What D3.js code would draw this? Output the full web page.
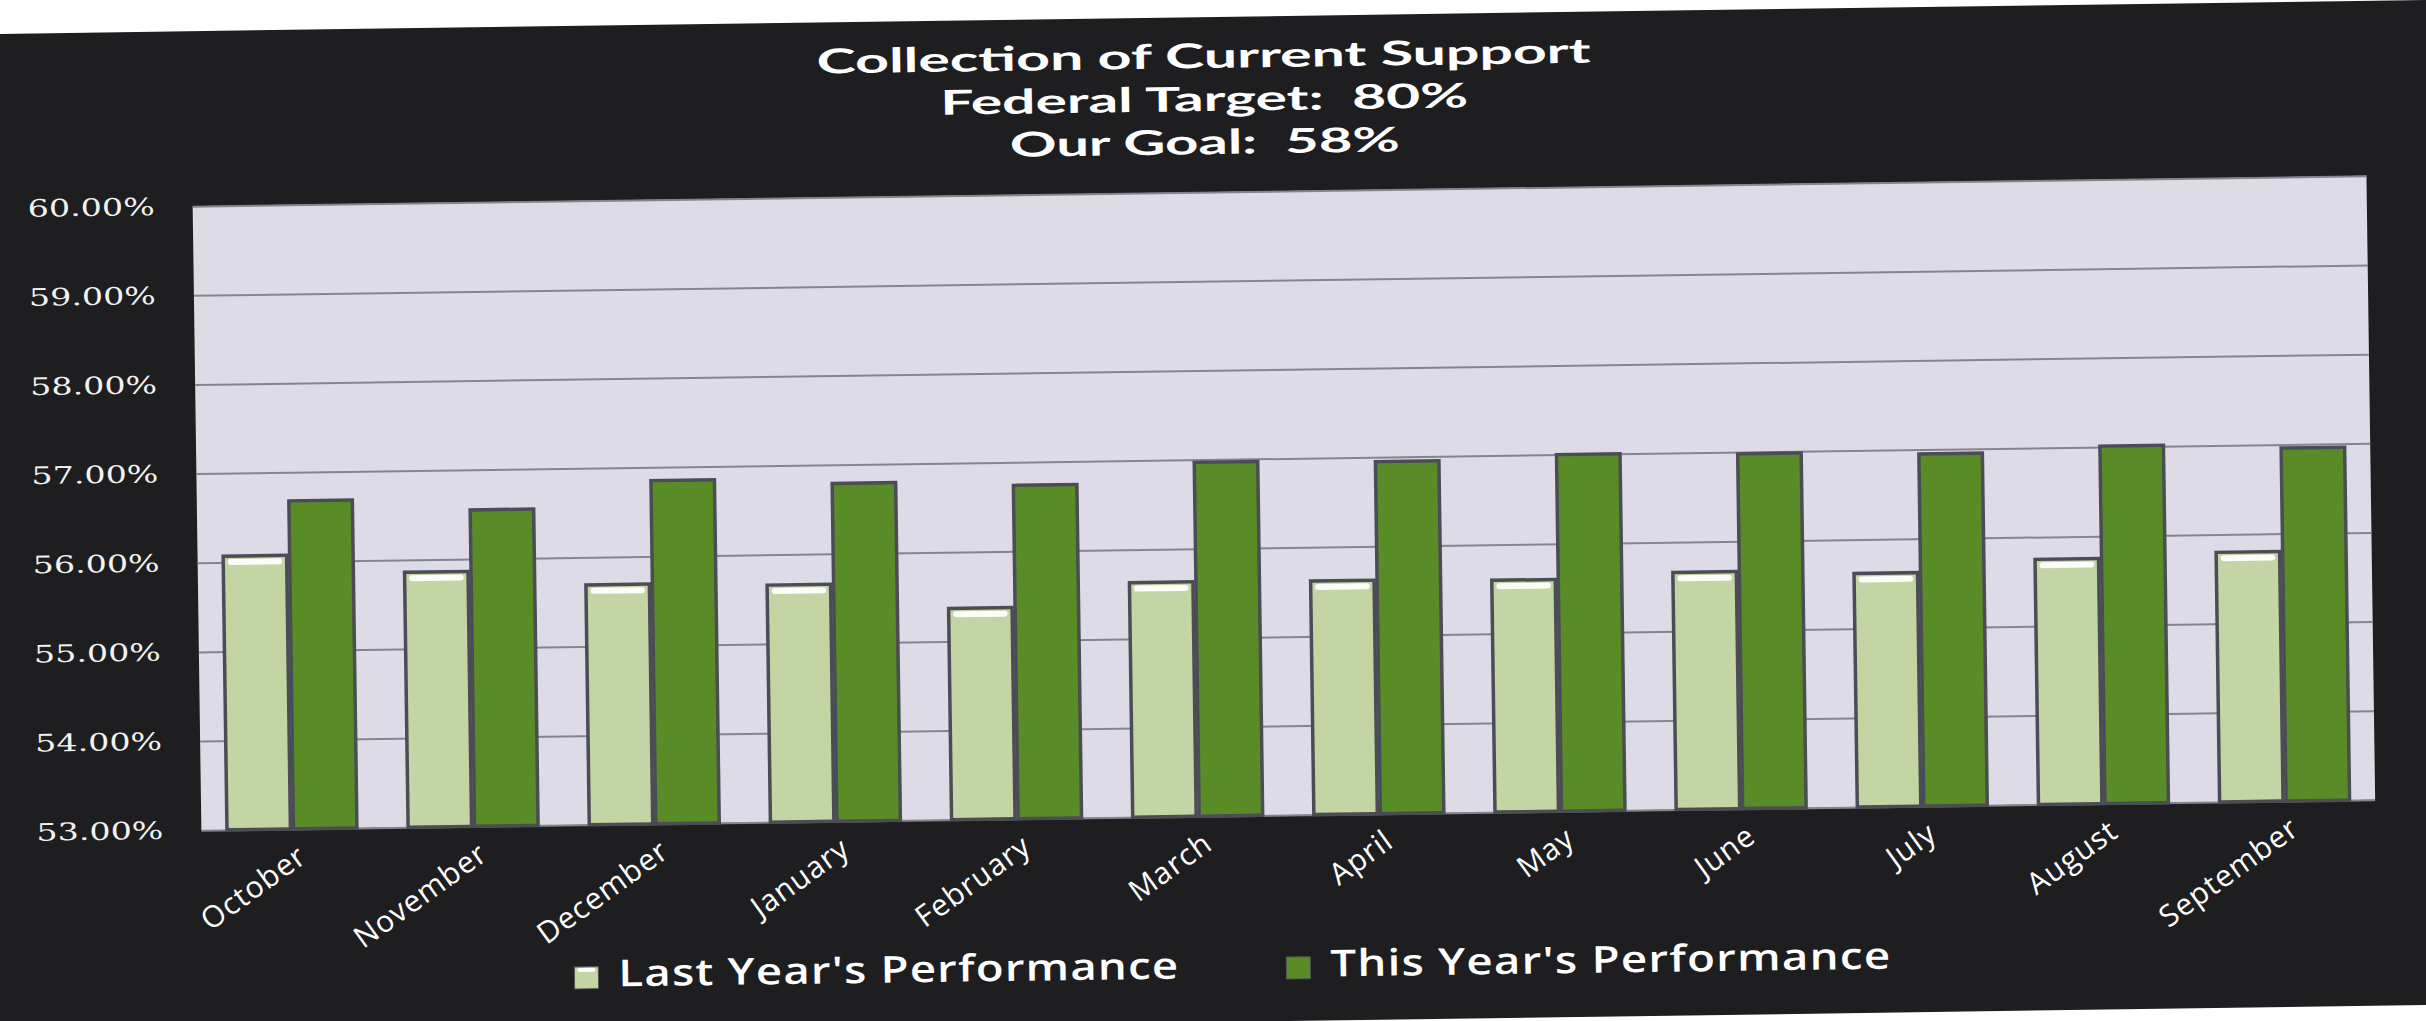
<!DOCTYPE html>
<html>
<head>
<meta charset="utf-8">
<script src="https://cdn.jsdelivr.net/npm/d3@7"></script>
<style>
  body { margin: 0; background: #fff; }
  svg { display: block; }
</style>
</head>
<body>
<div id="chart"></div>
<script>
// data
var months = ["October", "November", "December", "January", "February", "March",
              "April", "May", "June", "July", "August", "September"];
var lastYear = [56.07, 55.86, 55.69, 55.66, 55.37, 55.63, 55.62, 55.60, 55.66, 55.62, 55.75, 55.80];
var thisYear = [56.68, 56.55, 56.85, 56.79, 56.74, 56.97, 56.95, 57.00, 56.98, 56.95, 57.01, 56.96];
var seriesNames = ["Last Year's Performance", "This Year's Performance"];
var yTicks = [53, 54, 55, 56, 57, 58, 59, 60];
var titleLines = ["Collection of Current Support", "Federal Target:  80%", "Our Goal:  58%"];

var width = 2426, height = 1021;
var plot = {left: 197, right: 2371, top: 192, bottom: 816};
var colors = ["#c3d4a5", "#598b27"];

var svg = d3.select("#chart").append("svg")
  .attr("width", width)
  .attr("height", height);

svg.append("rect")
  .attr("width", width)
  .attr("height", height)
  .attr("fill", "#ffffff");

// the scanned page sits slightly tilted
var g = svg.append("g")
  .attr("transform", "rotate(-0.8,1213,510)");

g.append("rect")
  .attr("x", -60).attr("y", 17)
  .attr("width", width + 120).attr("height", 1005)
  .attr("fill", "#1e1e20");

// title
g.selectAll(".title")
  .data(titleLines)
  .enter().append("text")
    .attr("class", "title")
    .attr("x", 1210)
    .attr("y", function(d, i) { return [68, 111, 154][i]; })
    .attr("text-anchor", "middle")
    .attr("textLength", function(d, i) { return [774, 528, 390][i]; })
    .attr("lengthAdjust", "spacingAndGlyphs")
    .attr("xml:space", "preserve")
    .style("font-family", "Lato, sans-serif")
    .style("font-weight", 700)
    .style("font-size", "34px")
    .style("fill", "#ffffff")
    .text(function(d) { return d; });

var x0 = d3.scaleBand()
  .domain(months)
  .range([plot.left, plot.right])
  .paddingInner(0.266)
  .paddingOuter(0.133);

var x1 = d3.scaleBand()
  .domain([0, 1])
  .range([0, x0.bandwidth()]);

var y = d3.scaleLinear()
  .domain([53, 60])
  .range([plot.bottom, plot.top]);

// plot area
g.append("rect")
  .attr("x", plot.left).attr("y", plot.top)
  .attr("width", plot.right - plot.left)
  .attr("height", plot.bottom - plot.top)
  .attr("fill", "#dddce6");

// gridlines
var grid = g.append("g")
  .attr("transform", "translate(" + plot.left + ",0)")
  .call(d3.axisLeft(y).tickValues(yTicks).tickSize(-(plot.right - plot.left)).tickFormat(""));
grid.select(".domain").remove();
grid.selectAll("line")
  .attr("stroke", "#84848f")
  .attr("stroke-width", 2);

// y labels
var yAxis = g.append("g")
  .attr("transform", "translate(159,0)")
  .call(d3.axisLeft(y).tickValues(yTicks).tickSize(0).tickPadding(0)
    .tickFormat(function(d) { return d.toFixed(2) + "%"; }));
yAxis.select(".domain").remove();
yAxis.selectAll("text")
  .attr("textLength", 127)
  .attr("lengthAdjust", "spacingAndGlyphs")
  .style("font-family", "'DejaVu Serif', serif")
  .style("font-size", "24px")
  .style("fill", "#f2f2f2");

// bars
var rows = months.map(function(m, i) {
  return {month: m, values: [lastYear[i], thisYear[i]]};
});

var groups = g.selectAll(".month")
  .data(rows)
  .enter().append("g")
    .attr("class", "month")
    .attr("transform", function(d) { return "translate(" + x0(d.month) + ",0)"; });

groups.selectAll(".bar")
  .data(function(d) { return d.values.map(function(v, k) { return {k: k, v: v}; }); })
  .enter().append("rect")
    .attr("class", "bar")
    .attr("x", function(d) { return x1(d.k) + 1.5; })
    .attr("y", function(d) { return y(d.v); })
    .attr("width", x1.bandwidth() - 3)
    .attr("height", function(d) { return y(53) - y(d.v); })
    .attr("fill", function(d) { return colors[d.k]; })
    .attr("stroke", "#4c4c54")
    .attr("stroke-width", 3.5);

// bevel highlight on the light bars
groups.append("rect")
  .attr("x", x1(0) + 6)
  .attr("y", function(d) { return y(d.values[0]) + 3; })
  .attr("width", x1.bandwidth() - 12)
  .attr("height", 6)
  .attr("rx", 3)
  .attr("fill", "#fbfdf6");

// x labels
var xAxis = g.append("g")
  .attr("transform", "translate(0," + plot.bottom + ")")
  .call(d3.axisBottom(x0).tickSize(0).tickPadding(0));
xAxis.select(".domain").remove();
xAxis.selectAll("text")
  .attr("text-anchor", "end")
  .attr("dy", 0)
  .attr("transform", "translate(16,32) rotate(-35)")
  .style("font-family", "'Open Sans', sans-serif")
  .style("font-size", "30px")
  .style("letter-spacing", "1px")
  .style("fill", "#ffffff");

// legend
var legend = g.selectAll(".legend")
  .data(seriesNames)
  .enter().append("g")
    .attr("class", "legend")
    .attr("transform", function(d, i) { return "translate(" + [568, 1280][i] + ",958)"; });

legend.append("rect")
  .attr("width", 24).attr("height", 22)
  .attr("fill", function(d, i) { return colors[i]; })
  .attr("stroke", "#555")
  .attr("stroke-width", 1);

legend.filter(function(d, i) { return i === 0; })
  .append("rect")
    .attr("x", 3).attr("y", 1).attr("width", 18).attr("height", 4).attr("rx", 2)
    .attr("fill", "#ffffff");

legend.append("text")
  .attr("x", 44)
  .attr("y", 20)
  .attr("textLength", 561)
  .attr("lengthAdjust", "spacingAndGlyphs")
  .style("font-family", "'Open Sans', sans-serif")
  .style("font-weight", 600)
  .style("font-size", "37px")
  .style("letter-spacing", "1px")
  .style("fill", "#ffffff")
  .text(function(d) { return d; });
</script>
</body>
</html>
